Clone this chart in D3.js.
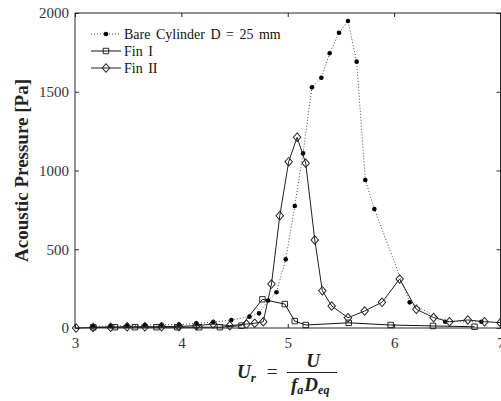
<!DOCTYPE html>
<html>
<head>
<meta charset="utf-8">
<script src="https://cdn.jsdelivr.net/npm/d3@7"></script>
<style>
  body { margin: 0; background: #fff; }
  svg { display: block; }
  text { font-family: "Liberation Serif", "DejaVu Serif", serif; }
</style>
</head>
<body>
<svg></svg>
<script>
// reduced velocity on x, acoustic pressure [Pa] on y
const bareU = [3.17, 3.335, 3.49, 3.657, 3.814, 3.977, 4.14, 4.30, 4.47, 4.64, 4.73, 4.815, 4.894, 4.981,
  5.066, 5.144, 5.228, 5.316, 5.394, 5.482, 5.566, 5.648, 5.729, 5.814, 6.146, 6.48, 6.82];
const bareP = [10, 12, 15, 19, 20, 22, 30, 37, 51, 72, 93, 175, 227, 436,
  775, 1109, 1528, 1589, 1744, 1875, 1949, 1691, 940, 756, 163, 40, 40];

const fin1U = [3.172, 3.376, 3.563, 3.767, 3.961, 4.167, 4.362, 4.565, 4.762, 4.972, 5.066, 5.169,
  5.573, 5.967, 6.365, 6.756];
const fin1P = [5, 5, 5, 5, 5, 5, 5, 15, 182, 152, 44, 19, 33, 19, 13, 8];

const fin2U = [3.01, 3.17, 3.335, 3.49, 3.657, 3.814, 3.977, 4.14, 4.299, 4.455, 4.612, 4.69, 4.77,
  4.847, 4.925, 5.009, 5.088, 5.169, 5.254, 5.325, 5.413, 5.566, 5.723, 5.886, 6.052, 6.209,
  6.371, 6.521, 6.693, 6.85, 7.0];
const fin2P = [0, 3, 5, 8, 8, 8, 10, 15, 25, 15, 25, 30, 40,
  279, 713, 1056, 1211, 1046, 559, 237, 140, 65, 108, 163, 311, 119,
  66, 40, 51, 40, 34];

const xTicks = [3, 4, 5, 6, 7];
const yTicks = [0, 500, 1000, 1500, 2000];
const legendNames = ["Bare Cylinder D = 25 mm", "Fin I", "Fin II"];

//size and margins
const W = 501, H = 401;
const margin = { top: 13, right: 0.5, bottom: 73, left: 75 };
const width = W - margin.left - margin.right;
const height = H - margin.top - margin.bottom;

const svg = d3.select("svg").attr("width", W).attr("height", H);
const plot = svg.append("g").attr("transform", `translate(${margin.left},${margin.top})`);

const x = d3.scaleLinear().domain([3, 7]).range([0, width]);
const y = d3.scaleLinear().domain([0, 2000]).range([height, 0]);

const axisColor = "#262626";
const serif = "Liberation Serif, DejaVu Serif, serif";

function styleAxis(g, labels) {
  g.attr("font-family", serif).attr("font-size", 15);
  g.select(".domain").remove();
  g.selectAll(".tick line").attr("stroke", axisColor);
  g.selectAll(".tick text")
    .attr("fill", "#333")
    .style("display", labels ? null : "none");
}

plot.append("g").attr("transform", `translate(0,${height})`)
  .call(d3.axisBottom(x).tickValues(xTicks).tickSize(-4).tickPadding(9).tickFormat(d3.format("d")))
  .call(g => styleAxis(g, true));
plot.append("g")
  .call(d3.axisTop(x).tickValues(xTicks).tickSize(-4))
  .call(g => styleAxis(g, false));
plot.append("g")
  .call(d3.axisLeft(y).tickValues(yTicks).tickSize(-4).tickPadding(6).tickFormat(d3.format("d")))
  .call(g => styleAxis(g, true));
plot.append("g").attr("transform", `translate(${width},0)`)
  .call(d3.axisRight(y).tickValues(yTicks).tickSize(-4))
  .call(g => styleAxis(g, false));

// box
plot.append("rect")
  .attr("width", width).attr("height", height)
  .attr("fill", "none").attr("stroke", axisColor).attr("stroke-width", 1);

const series = [
  { name: legendNames[0], u: bareU, p: bareP, dash: "1,2", color: "#444", marker: "dot" },
  { name: legendNames[1], u: fin1U, p: fin1P, dash: null, color: "#111", marker: "square" },
  { name: legendNames[2], u: fin2U, p: fin2P, dash: null, color: "#222", marker: "diamond" }
];

const line = d3.line().x(d => x(d[0])).y(d => y(d[1]));

function drawMarker(g, kind, cx, cy) {
  if (kind === "dot") {
    g.append("circle").attr("cx", cx).attr("cy", cy).attr("r", 2.3).attr("fill", "#000");
  } else if (kind === "square") {
    g.append("path").attr("d", d3.symbol(d3.symbolSquare, 30)())
      .attr("transform", `translate(${cx},${cy})`)
      .attr("fill", "none").attr("stroke", "#111").attr("stroke-width", 0.9);
  } else {
    g.append("path").attr("d", d3.symbol(d3.symbolSquare, 28)())
      .attr("transform", `translate(${cx},${cy}) scale(1,1.15) rotate(45)`)
      .attr("fill", "none").attr("stroke", "#222").attr("stroke-width", 0.9);
  }
}

series.forEach(s => {
  const pts = s.u.map((u, i) => [u, s.p[i]]);
  plot.append("path").datum(pts)
    .attr("d", line)
    .attr("fill", "none")
    .attr("stroke", s.color)
    .attr("stroke-width", 1)
    .attr("stroke-dasharray", s.dash);
  const mg = plot.append("g");
  pts.forEach(d => drawMarker(mg, s.marker, x(d[0]), y(d[1])));
});

// legend, no box
const legend = svg.append("g");
series.forEach((s, i) => {
  const ly = 34 + i * 17;
  legend.append("line")
    .attr("x1", 91).attr("x2", 121).attr("y1", ly).attr("y2", ly)
    .attr("stroke", s.color).attr("stroke-width", 1).attr("stroke-dasharray", s.dash);
  drawMarker(legend, s.marker, 106, ly);
  legend.append("text")
    .attr("x", 124).attr("y", ly + 4.5)
    .attr("fill", "#111")
    .attr("font-family", serif)
    .attr("font-size", 14)
    .style("word-spacing", "2px")
    .text(s.name);
});

// y label
svg.append("text")
  .attr("transform", `translate(28,${margin.top + height / 2}) rotate(-90)`)
  .attr("text-anchor", "middle")
  .attr("fill", "#222")
  .attr("font-family", serif)
  .attr("font-size", 19)
  .attr("font-weight", "bold")
  .text("Acoustic Pressure [Pa]");

// x label: U_r = U / (f_a D_eq)
const xl = svg.append("g")
  .attr("fill", "#222")
  .attr("font-family", serif)
  .attr("font-weight", "bold")
  .attr("font-style", "italic");

const lhs = xl.append("text").attr("x", 237).attr("y", 378).attr("font-size", 19);
lhs.append("tspan").text("U");
lhs.append("tspan").attr("dy", 4).attr("font-size", 13).text("r");

xl.append("text").attr("x", 272).attr("y", 378).attr("text-anchor", "middle")
  .attr("font-size", 19).attr("font-style", "normal").attr("font-weight", "normal")
  .text("=");

xl.append("text").attr("x", 313).attr("y", 367).attr("text-anchor", "middle")
  .attr("font-size", 19).text("U");

xl.append("line").attr("x1", 287).attr("x2", 337).attr("y1", 372.5).attr("y2", 372.5)
  .attr("stroke", "#222").attr("stroke-width", 1);

const den = xl.append("text").attr("x", 291).attr("y", 391).attr("font-size", 19);
den.append("tspan").text("f");
den.append("tspan").attr("dy", 3).attr("font-size", 12).text("a");
den.append("tspan").attr("dy", -3).attr("dx", 1).text("D");
den.append("tspan").attr("dy", 3).attr("font-size", 12).text("eq");
</script>
</body>
</html>
